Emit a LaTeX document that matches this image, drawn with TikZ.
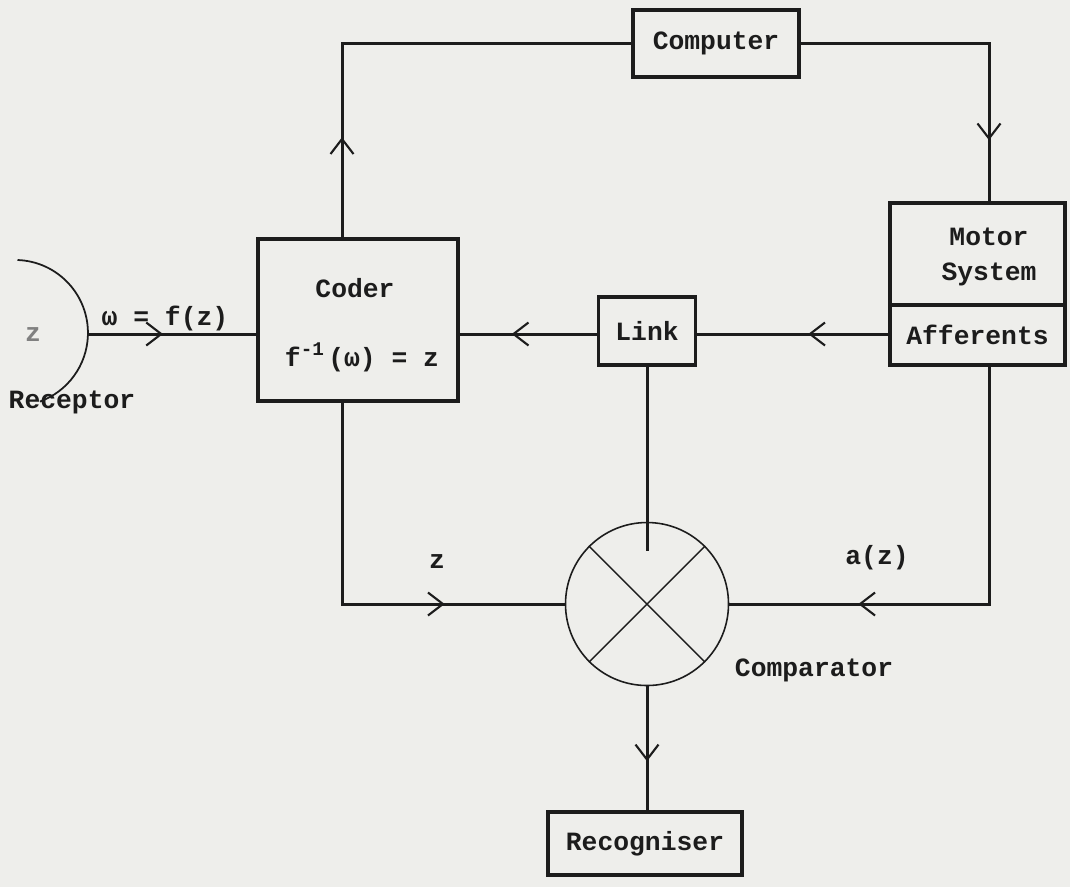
\documentclass[tikz,border=0pt]{standalone}
\usepackage{fontspec}
\setmainfont{Liberation Mono}
\usetikzlibrary{arrows.meta,decorations.markings,calc}
\definecolor{paper}{RGB}{238,238,235}
\definecolor{ink}{RGB}{28,28,28}
\tikzset{
  txt/.style={font=\bfseries\fontsize{15}{17}\selectfont, text=ink, inner sep=0pt},
  box/.style={txt, draw=ink, line width=2pt, rectangle},
  wire/.style={draw=ink, line width=1.7pt},
  thin/.style={draw=ink, line width=0.9pt},
  tipat/.style={postaction={decorate, decoration={markings,
     mark=at position #1 with {\arrow{Straight Barb[length=0.3cm,width=0.46cm,line width=1.2pt]}}}}},
}
\begin{document}
\begin{tikzpicture}[x=0.02cm, y=-0.02cm]
  \path[use as bounding box, fill=paper] (0,0) rectangle (1070,887);

  % columns of the vertical connectors
  \coordinate (cx) at (342,0);
  \coordinate (rx) at (989,0);

  % boxes
  \node[box, minimum width={166*0.02cm}, minimum height={67*0.02cm}] (computer) at (716,43.5) {Computer};
  \node[box, minimum width={200*0.02cm}, minimum height={162*0.02cm}] (coder) at (358,320) {};
  \node[txt] (coderlbl) at (355,288) {Coder};
  \node[txt] (codereq) at (362,357) {f\raisebox{0.42em}{\fontsize{11}{11}\selectfont -1}\,(ω)\hspace{0.6em}=\hspace{0.6em}z};
  \node[box, minimum width={97*0.02cm}, minimum height={68*0.02cm}] (link) at (647,331) {Link};
  \node[box, minimum width={175*0.02cm}, minimum height={102*0.02cm}] (motor) at (977.5,254) {};
  \node[txt, align=center] (motorlbl) at (989,257) {Motor\\[3pt]System};
  \node[box, minimum width={175*0.02cm}, minimum height={60*0.02cm}] (aff) at (977.5,335) {Afferents};
  \node[circle, thin, minimum size={163*0.02cm}, inner sep=0pt] (comp) at (647,604) {};
  \node[box, minimum width={194*0.02cm}, minimum height={63*0.02cm}] (recog) at (645,843.5) {Recogniser};

  % comparator cross
  \draw[ink, line width=0.8pt] (comp.north west) -- (comp.south east);
  \draw[ink, line width=0.8pt] (comp.north east) -- (comp.south west);

  % receptor
  \draw[ink, line width=1pt] (17.5,260) arc[start angle=88, end angle=-70, radius={73*0.02cm}];
  \coordinate (rec) at (88,334);
  \node[txt, text=gray] (recz) at (33,335) {z};
  \node[txt] (reclbl) at (72,402) {Receptor};
  \node[txt] (omega) at (165,318) {ω = f(z)};

  % connectors
  \draw[wire, tipat=1.5cm] (rec) -- (coder.west |- rec);
  \draw[wire, tipat=1.7cm] (link.west |- rec) -- (coder.east |- rec);
  \draw[wire, tipat=1.6cm] (aff.west |- rec) -- (link.east |- rec);
  \draw[wire, tipat=2cm] (coder.north -| cx) |- (computer.west);
  \draw[wire, tipat=5.7cm] (computer.east) -| (motor.north -| rx);
  \draw[wire, tipat=6.08cm] (coder.south -| cx) |- (comp.west);
  \draw[wire, tipat=7.36cm] (aff.south -| rx) |- (comp.east);
  \draw[wire] (link.south) -- ($(comp.north)+(0,29)$);
  \draw[wire, tipat=1.5cm] (comp.south) -- (comp.south |- recog.north);

  % labels on the loop
  \node[txt] (zlbl) at (437,562) {z};
  \node[txt] (azlbl) at (877,558) {a(z)};
  \node[txt] (complbl) at (814,670) {Comparator};
\end{tikzpicture}
\end{document}
